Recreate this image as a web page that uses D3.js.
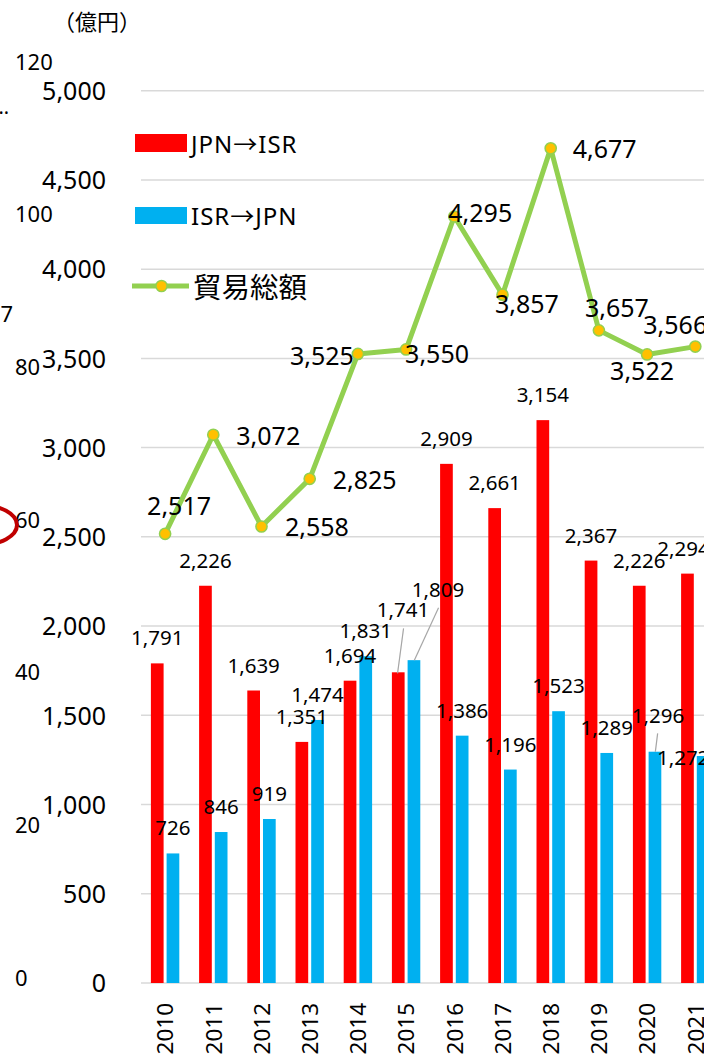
<!DOCTYPE html>
<html>
<head>
<meta charset="utf-8">
<script src="https://cdn.jsdelivr.net/npm/d3@7"></script>
<style>
  html, body { margin: 0; padding: 0; background: #fff; }
  svg { display: block; }
  text { font-family: "Noto Sans", "Noto Sans CJK JP", sans-serif; fill: #000; }
</style>
</head>
<body>
<svg id="chart" width="704" height="1064"></svg>
<script>
// ---- data ----
const years = ["2010","2011","2012","2013","2014","2015","2016","2017","2018","2019","2020","2021"];
const jpnToIsr = [1791, 2226, 1639, 1351, 1694, 1741, 2909, 2661, 3154, 2367, 2226, 2294];
const isrToJpn = [726, 846, 919, 1474, 1831, 1809, 1386, 1196, 1523, 1289, 1296, 1272];
const tradeTotal = [2517, 3072, 2558, 2825, 3525, 3550, 4295, 3857, 4677, 3657, 3522, 3566];
const yTicks = [0, 500, 1000, 1500, 2000, 2500, 3000, 3500, 4000, 4500, 5000];
const ghostTicks = [0, 20, 40, 60, 80, 100, 120];
const seriesNames = ["JPN→ISR", "ISR→JPN", "貿易総額"];
const unitLabel = "（億円）";

// ---- layout (label nudges) ----
const totalDx = [-18, 23, 23.5, 23, -68, -1, -6, -7.5, 22, -14, -37, -52];
const totalDy = [-19, 10, 10, 10, 11, 13.5, 5, 18, 10, -13, 26, -12.6];

const svg = d3.select("#chart");
const W = 704, H = 1064;
const fmt = d3.format(",");

const x = d3.scaleBand().domain(years).range([141, 141 + 48.2 * years.length]).padding(0);
const y = d3.scaleLinear().domain([0, 5000]).range([983, 90.7]);
const yGhost = d3.scaleLinear().domain([0, 120]).range([976.7, 60.5]);
const barW = 12.7, gap = 3;
const cx = d => x(d) + x.bandwidth() / 2;

const colRed = "#FF0000", colBlue = "#00B0F0", colGreen = "#92D050", colMarker = "#FFC000";

// ghost artefacts on the left edge
svg.append("g").selectAll("text").data(ghostTicks).join("text")
  .attr("x", 15).attr("y", d => yGhost(d))
  .attr("dominant-baseline", "central")
  .style("font-size", "22px")
  .text(d => d);
svg.append("text").attr("x", 9).attr("y", 106).attr("text-anchor", "end")
  .attr("dominant-baseline", "central").style("font-size", "20px").text("…");
svg.append("text").attr("x", 13).attr("y", 313).attr("text-anchor", "end")
  .attr("dominant-baseline", "central").style("font-size", "22px").text("7");
svg.append("ellipse").attr("cx", -20).attr("cy", 525).attr("rx", 37).attr("ry", 20)
  .attr("fill", "none").attr("stroke", "#C00000").attr("stroke-width", 4);

// unit
svg.append("text").attr("x", 97).attr("y", 20).attr("text-anchor", "middle")
  .attr("dominant-baseline", "central")
  .style("font-family", "'Noto Sans CJK JP', sans-serif").style("font-size", "22px")
  .text(unitLabel);

// gridlines
svg.append("g").selectAll("line").data(yTicks).join("line")
  .attr("x1", 141).attr("x2", W + 20)
  .attr("y1", d => y(d)).attr("y2", d => y(d))
  .attr("stroke", "#D9D9D9").attr("stroke-width", 1.5);

// y axis labels
const yAxis = d3.axisLeft(y).tickValues(yTicks).tickFormat(fmt).tickSize(0).tickPadding(0);
const gy = svg.append("g").attr("transform", "translate(106,0)").call(yAxis);
gy.select(".domain").remove();
gy.selectAll("text").style("font-size", "25px").style("font-family", "'Noto Sans', sans-serif")
  .attr("fill", "#000").attr("dy", "0.35em").attr("x", 0);

// x axis labels (rotated)
svg.append("g").selectAll("text").data(years).join("text")
  .attr("transform", d => `translate(${cx(d) + 0.5},1003) rotate(-90)`)
  .attr("text-anchor", "end").attr("dy", "0.35em")
  .style("font-size", "22.5px")
  .text(d => d);

// bars
const rows = years.map((yr, i) => ({ yr, i, a: jpnToIsr[i], b: isrToJpn[i], t: tradeTotal[i] }));
svg.append("g").selectAll("rect").data(rows).join("rect")
  .attr("x", d => cx(d.yr) - gap / 2 - barW).attr("width", barW)
  .attr("y", d => y(d.a)).attr("height", d => y(0) - y(d.a))
  .attr("fill", colRed);
svg.append("g").selectAll("rect").data(rows).join("rect")
  .attr("x", d => cx(d.yr) + gap / 2).attr("width", barW)
  .attr("y", d => y(d.b)).attr("height", d => y(0) - y(d.b))
  .attr("fill", colBlue);

// bar labels
const redC = d => cx(d.yr) - gap / 2 - barW / 2;
const blueC = d => cx(d.yr) + gap / 2 + barW / 2;
const redLab = rows.map(d => {
  let lx = redC(d), ly = y(d.a) - 18, leader = null;
  if (d.yr === "2015") { lx = redC(d) + 4.7; ly = y(d.a) - 55.6; leader = [[lx + 0.6, ly + 11.6], [redC(d) - 0.7, y(d.a) + 1]]; }
  if (d.yr === "2021") { lx = redC(d) - 4; }
  return { v: d.a, lx, ly, leader };
});
const blueLab = rows.map(d => {
  let lx = blueC(d), ly = y(d.b) - 18, leader = null;
  if (d.yr === "2015") { lx = blueC(d) + 24; ly = y(d.b) - 63.5; leader = [[lx + 0.6, ly + 11], [blueC(d) + 0.4, y(d.b)]]; }
  if (d.yr === "2020") { lx = blueC(d) + 3; ly = y(d.b) - 29; leader = [[blueC(d) + 2.7, ly + 10.6], [blueC(d) + 0.4, y(d.b)]]; }
  if (d.yr === "2021") { lx = blueC(d) - 20; ly = y(d.b) + 9; }
  return { v: d.b, lx, ly, leader };
});
const allLab = redLab.concat(blueLab);
svg.append("g").selectAll("line").data(allLab.filter(d => d.leader)).join("line")
  .attr("x1", d => d.leader[0][0]).attr("y1", d => d.leader[0][1])
  .attr("x2", d => d.leader[1][0]).attr("y2", d => d.leader[1][1])
  .attr("stroke", "#A6A6A6").attr("stroke-width", 1.2);
svg.append("g").selectAll("text").data(allLab).join("text")
  .attr("x", d => d.lx).attr("y", d => d.ly)
  .attr("text-anchor", "middle")
  .style("font-size", "20.5px")
  .text(d => fmt(d.v));

// total line
const line = d3.line().x(d => cx(d.yr)).y(d => y(d.t));
svg.append("path").datum(rows).attr("d", line)
  .attr("fill", "none").attr("stroke", colGreen).attr("stroke-width", 5)
  .attr("stroke-linejoin", "round");
svg.append("g").selectAll("circle").data(rows).join("circle")
  .attr("cx", d => cx(d.yr)).attr("cy", d => y(d.t)).attr("r", 5.6)
  .attr("fill", colMarker).attr("stroke", colGreen).attr("stroke-width", 1.5);
svg.append("g").selectAll("text").data(rows).join("text")
  .attr("x", d => cx(d.yr) + totalDx[d.i]).attr("y", d => y(d.t) + totalDy[d.i])
  .style("font-size", "25px")
  .text(d => fmt(d.t));

// legend
const lg = svg.append("g");
lg.append("rect").attr("x", 135).attr("y", 134).attr("width", 52).attr("height", 18).attr("fill", colRed);
lg.append("text").attr("x", 191).attr("y", 143).attr("dominant-baseline", "central")
  .style("font-size", "24px").style("letter-spacing", "1px").text(seriesNames[0]);
lg.append("rect").attr("x", 135).attr("y", 207).attr("width", 52).attr("height", 17).attr("fill", colBlue);
lg.append("text").attr("x", 191).attr("y", 215.5).attr("dominant-baseline", "central")
  .style("font-size", "24px").style("letter-spacing", "1px").text(seriesNames[1]);
lg.append("line").attr("x1", 132).attr("x2", 189).attr("y1", 286).attr("y2", 286)
  .attr("stroke", colGreen).attr("stroke-width", 5);
lg.append("circle").attr("cx", 161.5).attr("cy", 286).attr("r", 5.6)
  .attr("fill", colMarker).attr("stroke", colGreen).attr("stroke-width", 1.5);
lg.append("text").attr("x", 193).attr("y", 285).attr("dominant-baseline", "central")
  .style("font-family", "'Noto Sans CJK JP', sans-serif").style("font-size", "28.5px")
  .text(seriesNames[2]);
</script>
</body>
</html>
